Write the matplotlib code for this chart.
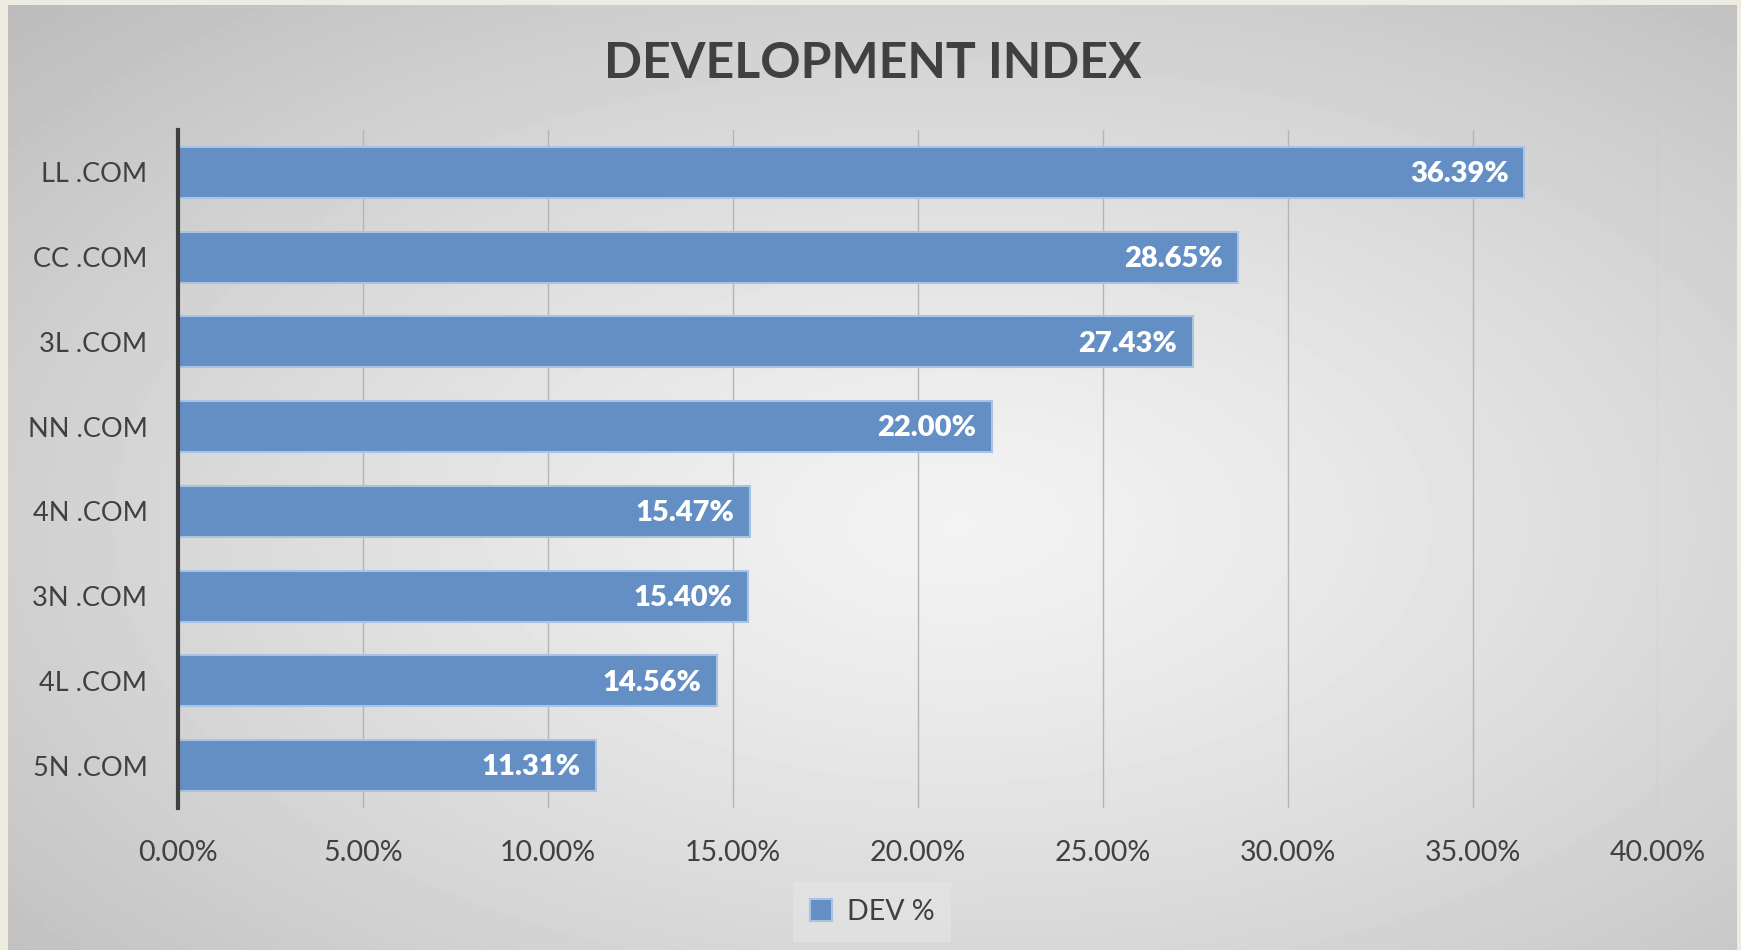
import numpy as np
import matplotlib
matplotlib.use('Agg')
import matplotlib.pyplot as plt

plt.rcParams['font.family'] = ['Lato', 'DejaVu Sans']

# data
categories = ['LL .COM', 'CC .COM', '3L .COM', 'NN .COM', '4N .COM', '3N .COM', '4L .COM', '5N .COM']
dev_pct = [36.39, 28.65, 27.43, 22.00, 15.47, 15.40, 14.56, 11.31]
x_ticks = [0, 5, 10, 15, 20, 25, 30, 35, 40]

W, H = 1741, 950
fig = plt.figure(figsize=(W / 100, H / 100), dpi=100)
fig.patch.set_facecolor('#EEECE1')

# background with soft radial shading
bg = fig.add_axes([8 / W, 0, (1737 - 8) / W, (950 - 5) / H])
yy, xx = np.mgrid[-1:1:300j, -1:1:500j]
r = np.sqrt((xx - 0.1) ** 2 + (yy - 0.1) ** 2) / np.sqrt(2)
shade = 0.95 - 0.19 * r ** 1.3
bg.imshow(shade, cmap='gray', vmin=0, vmax=1, aspect='auto', extent=[0, 1, 0, 1])
bg.axis('off')
bg.set_zorder(0)

ax = fig.add_axes([178 / W, 1 - 808 / H, (1658 - 178) / W, (808 - 130) / H])
ax.set_zorder(1)
ax.patch.set_alpha(0)

y = np.arange(len(categories))
ax.barh(y, dev_pct, height=0.6, color='#648FC4', edgecolor='#A9C3E3', linewidth=1.5, zorder=3)

for yi, v in zip(y, dev_pct):
    ax.text(v - 0.42, yi + 0.02, f'{v:.2f}%', ha='right', va='center',
            color='white', fontsize=21, fontweight='heavy', zorder=4)

ax.set_xlim(0, 40)
ax.set_ylim(len(categories) - 0.5, -0.5)
ax.set_xticks(x_ticks)
ax.set_xticklabels([f'{t:.2f}%' for t in x_ticks])
ax.set_yticks(y)
ax.set_yticklabels(categories)
ax.tick_params(axis='x', length=0, labelsize=20.5, colors='#404040', pad=23)
ax.tick_params(axis='y', length=0, labelsize=19.5, colors='#404040', pad=22)
ax.grid(axis='x', color='#B4B4B4', linewidth=1.0, zorder=1)
for s in ['top', 'right', 'bottom']:
    ax.spines[s].set_visible(False)
ax.spines['left'].set_color('#404040')
ax.spines['left'].set_linewidth(3)
ax.spines['left'].set_zorder(5)

fig.text(873 / W, 1 - 63 / H, 'DEVELOPMENT INDEX', ha='center', va='center',
         fontsize=36, fontweight='bold', color='#404040')

leg = fig.legend(['DEV %'], loc='center', bbox_to_anchor=(872 / W, 1 - 912 / H),
                 fontsize=20.5, frameon=True, fancybox=False, handlelength=0.8,
                 handleheight=0.8, handletextpad=0.5, borderpad=0.6)
leg.get_frame().set_facecolor('#E3E3E3')
leg.get_frame().set_edgecolor('none')
for t in leg.get_texts():
    t.set_color('#404040')

fig.savefig('out.png', dpi=100, facecolor=fig.get_facecolor())
